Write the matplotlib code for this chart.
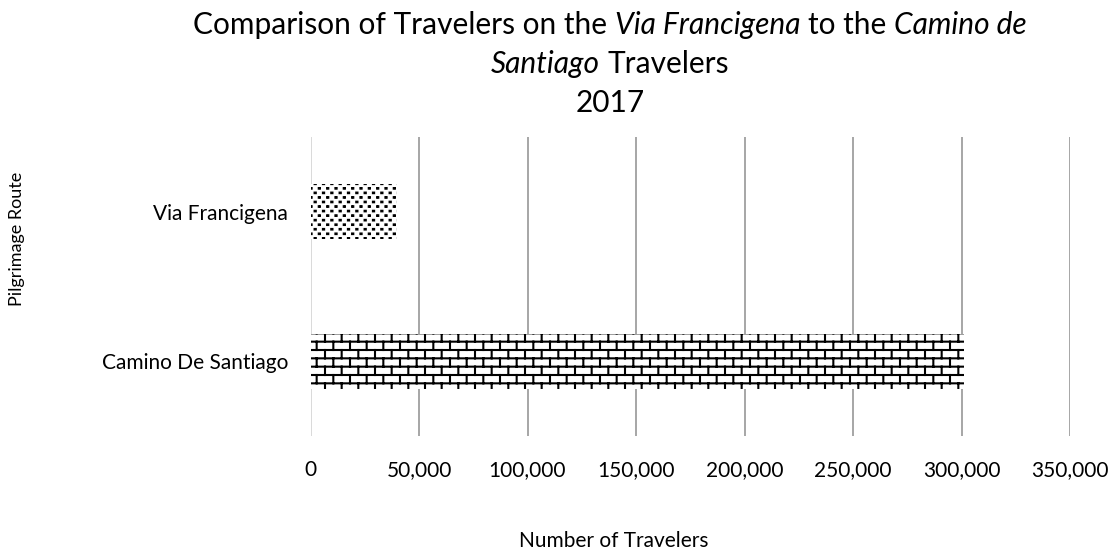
import matplotlib
matplotlib.use('Agg')
import matplotlib.pyplot as plt
import matplotlib.hatch as mhatch
from matplotlib.path import Path
from matplotlib.ticker import FuncFormatter
import numpy as np

routes = ['Camino De Santiago', 'Via Francigena']
travelers = [301036, 40000]
patterns = ['b', 'c']   # brick, confetti
xticks = np.arange(0, 350001, 50000)

title_lines = [
    [("Comparison of Travelers on the", 'normal'), ("Via Francigena", 'italic'),
     ("to the", 'normal'), ("Camino de", 'italic')],
    [("Santiago", 'italic'), ("Travelers", 'normal')],
    [("2017", 'normal')],
]

FONT = 'Lato'
plt.rcParams['font.family'] = FONT
plt.rcParams['hatch.linewidth'] = 1.5


# custom hatch: horizontal brick
class BrickHatch(mhatch.HatchPatternBase):
    rows = 12
    cols = 6

    def __init__(self, hatch, density):
        self.on = 'b' in hatch
        if self.on:
            nseg = (self.rows + 1) + (self.rows // 2) * (self.cols + 1) + (self.rows // 2) * self.cols
            self.num_vertices = nseg * 2
        else:
            self.num_vertices = 0

    def set_vertices_and_codes(self, vertices, codes):
        segs = []
        for k in range(self.rows + 1):
            segs.append([(0, k / self.rows), (1, k / self.rows)])
        for k in range(self.rows):
            y0, y1 = k / self.rows, (k + 1) / self.rows
            if k % 2 == 0:
                xs = [j / self.cols for j in range(self.cols + 1)]
            else:
                xs = [(j + 0.5) / self.cols for j in range(self.cols)]
            for x in xs:
                segs.append([(x, y0), (x, y1)])
        segs = np.array(segs, dtype=float).reshape(-1, 2)
        vertices[:] = segs
        codes[0::2] = Path.MOVETO
        codes[1::2] = Path.LINETO


# custom hatch: small confetti squares
class ConfettiHatch(mhatch.HatchPatternBase):
    rows = 22
    cols = 12
    w = 0.012
    h = 0.006

    def __init__(self, hatch, density):
        self.num_vertices = self.rows * self.cols * 5 if 'c' in hatch else 0

    def set_vertices_and_codes(self, vertices, codes):
        verts = []
        for r in range(self.rows):
            y = (r + 0.5) / self.rows
            off = 0.5 / self.cols if r % 2 else 0.0
            for c in range(self.cols):
                x = (c + 0.25) / self.cols + off
                verts += [(x, y), (x + self.w, y), (x + self.w, y + self.h),
                          (x, y + self.h), (x, y)]
        vertices[:] = np.array(verts)
        cds = [Path.MOVETO, Path.LINETO, Path.LINETO, Path.LINETO, Path.CLOSEPOLY]
        codes[:] = cds * (self.rows * self.cols)


mhatch._hatch_types.extend([BrickHatch, ConfettiHatch])

W, H = 1115, 553
fig = plt.figure(figsize=(W / 100, H / 100), dpi=100)
ax = fig.add_axes([310.5 / W, 1 - 436 / H, (1070 - 310.5) / W, 299 / H])

bars = ax.barh(routes, travelers, height=0.37, color='white', edgecolor='black', linewidth=0)
for b, p in zip(bars, patterns):
    b.set_hatch(p)

ax.set_xlim(0, 350000)
ax.set_ylim(-0.5, 1.5)
ax.set_xticks(xticks)
ax.xaxis.set_major_formatter(FuncFormatter(lambda v, _: f'{int(v):,}'))
ax.tick_params(axis='both', length=0, labelsize=15, colors='black')
ax.tick_params(axis='x', pad=17)
ax.tick_params(axis='y', pad=16)
for s in ax.spines.values():
    s.set_visible(False)
ax.set_axisbelow(True)
ax.xaxis.grid(True, color='#a6a6a6', linewidth=1.4)
ax.get_xgridlines()[0].set_color('#d9d9d9')

fig.text(614 / W, 1 - 547 / H, 'Number of Travelers', ha='center', va='baseline', fontsize=15)
fig.text(17 / W, 1 - 239 / H, 'Pilgrimage Route', ha='center', va='center', rotation=90, fontsize=13)

# title with mixed italic segments
renderer = fig.canvas.get_renderer()
tsize = 21.5
probe1 = fig.text(0, 0, 'x x', fontsize=tsize)
probe2 = fig.text(0, 0, 'xx', fontsize=tsize)
space = probe1.get_window_extent(renderer).width - probe2.get_window_extent(renderer).width
probe1.remove()
probe2.remove()

baselines = [34, 73, 112]
cx = 610
for line, yb in zip(title_lines, baselines):
    texts = [fig.text(0, 1 - yb / H, s, fontsize=tsize, style=st, va='baseline', ha='left')
             for s, st in line]
    widths = [t.get_window_extent(renderer).width for t in texts]
    total = sum(widths) + space * (len(texts) - 1)
    x = cx - total / 2
    for t, w in zip(texts, widths):
        t.set_x(x / W)
        x += w + space

fig.savefig('out.png', dpi=100)
